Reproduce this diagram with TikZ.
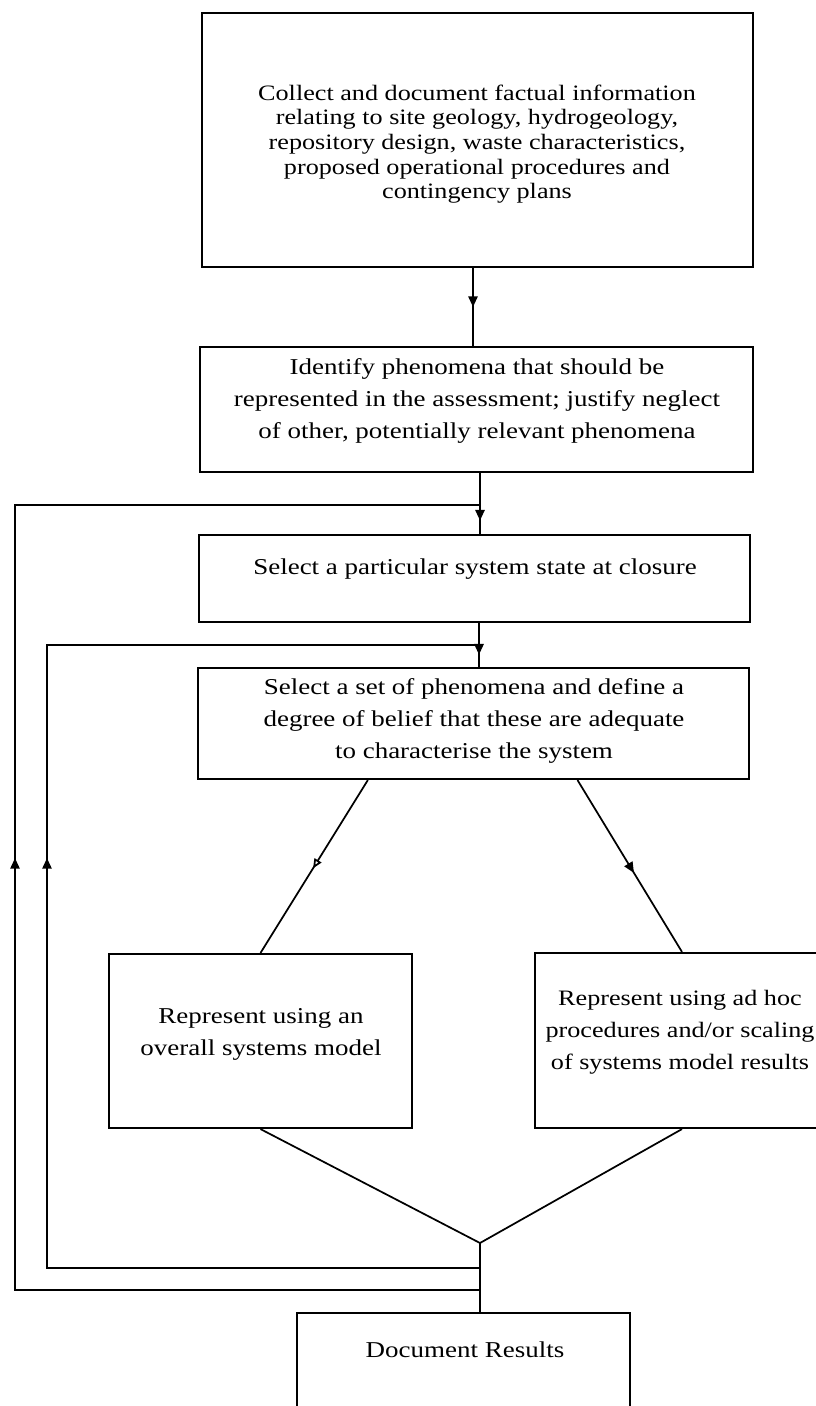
\documentclass[tikz,border=0pt]{standalone}
\usepackage{fontspec}
\setmainfont{Liberation Serif}[FakeStretch=1.19]
\usetikzlibrary{arrows.meta,decorations.markings,calc}
\begin{document}
\begin{tikzpicture}[x=0.75pt,y=-0.75pt, line width=1.3pt, line join=miter,
  box/.style={draw, rectangle, inner sep=0pt, line width=1.6pt},
  txt/.style={align=center, font=\fontsize{17}{24}\selectfont, inner sep=0pt},
  txtA/.style={align=center, font=\fontsize{16.5}{18.5}\selectfont, inner sep=0pt},
  txtB/.style={align=center, font=\fontsize{16.5}{24}\selectfont, inner sep=0pt},
  midarrow/.style={postaction={decorate}, decoration={markings, mark=at position #1 with {\arrow{Triangle[length=8pt,width=7pt]}}}},
  openmid/.style={postaction={decorate}, decoration={markings, mark=at position #1 with {\arrow{Triangle[open,length=7pt,width=6pt,fill=white]}}}}
]
\useasboundingbox (0,0) rectangle (816,1406);
\clip (0,0) rectangle (816,1406);

% boxes
\node[box, minimum width=413.25pt, minimum height=190.5pt] (b1) at (477.5,140) {};
\node[box, minimum width=414.75pt, minimum height=93.75pt] (b2) at (476.5,409.5) {};
\node[box, minimum width=413.25pt, minimum height=65.25pt] (b3) at (474.5,578.5) {};
\node[box, minimum width=413.25pt, minimum height=83.25pt] (b4) at (473.5,723.5) {};
\node[box, minimum width=227.25pt, minimum height=130.5pt] (b5) at (260.5,1041) {};
\node[box, minimum width=220.5pt, minimum height=131.25pt] (b6) at (682,1040.5) {};
\node[box, minimum width=249.75pt, minimum height=76.5pt] (b7) at (463.5,1364) {};

% texts
\node[txtA] (t1) at (477,144) {Collect and document factual information\\relating to site geology, hydrogeology,\\repository design, waste characteristics,\\proposed operational procedures and\\contingency plans};
\node[txt] (t2) at (477,401) {Identify phenomena that should be\\represented in the assessment; justify neglect\\of other, potentially relevant phenomena};
\node[txt] (t3) at (475,569) {Select a particular system state at closure};
\node[txt] (t4) at (474,721) {Select a set of phenomena and define a\\degree of belief that these are adequate\\to characterise the system};
\node[txt] (t5) at (261,1034) {Represent using an\\overall systems model};
\node[txtB] (t6) at (680,1032) {Represent using ad hoc\\procedures and/or scaling\\of systems model results};
\node[txt] (t7) at (465,1350) {Document Results};

% junction points
\coordinate (s1) at ($(b1.south)+(-4.5,0)$);
\coordinate (in1) at (480,505);
\coordinate (in2) at (479,645);
\coordinate (j) at (480,1243);
\coordinate (fb2) at (480,1268);
\coordinate (fb1) at (480,1290);
\coordinate (c1a) at (15,1290);
\coordinate (c1b) at (15,505);
\coordinate (c2a) at (47,1268);
\coordinate (c2b) at (47,645);
\coordinate (d1) at ($(b4.south west)!0.309!(b4.south east)$);
\coordinate (d2) at ($(b4.south west)!0.688!(b4.south east)$);

% main flow
\draw[midarrow=0.5] (s1) -- (s1 |- b2.north);
\draw[midarrow=0.78] (in1 |- b2.south) -- (in1 |- b3.north);
\draw[midarrow=0.72] (in2 |- b3.south) -- (in2 |- b4.north);
\draw[openmid=0.51] (d1) -- (b5.north);
\draw[midarrow=0.54] (d2) -- (b6.north);
\draw (b5.south) -- (j) -- (b6.south);
\draw (j) -- (j |- b7.north);

% feedback loops
\draw[midarrow=0.523] (fb1) -- (c1a) -- (c1b) -- (in1);
\draw[midarrow=0.5665] (fb2) -- (c2a) -- (c2b) -- (in2);
\end{tikzpicture}
\end{document}
